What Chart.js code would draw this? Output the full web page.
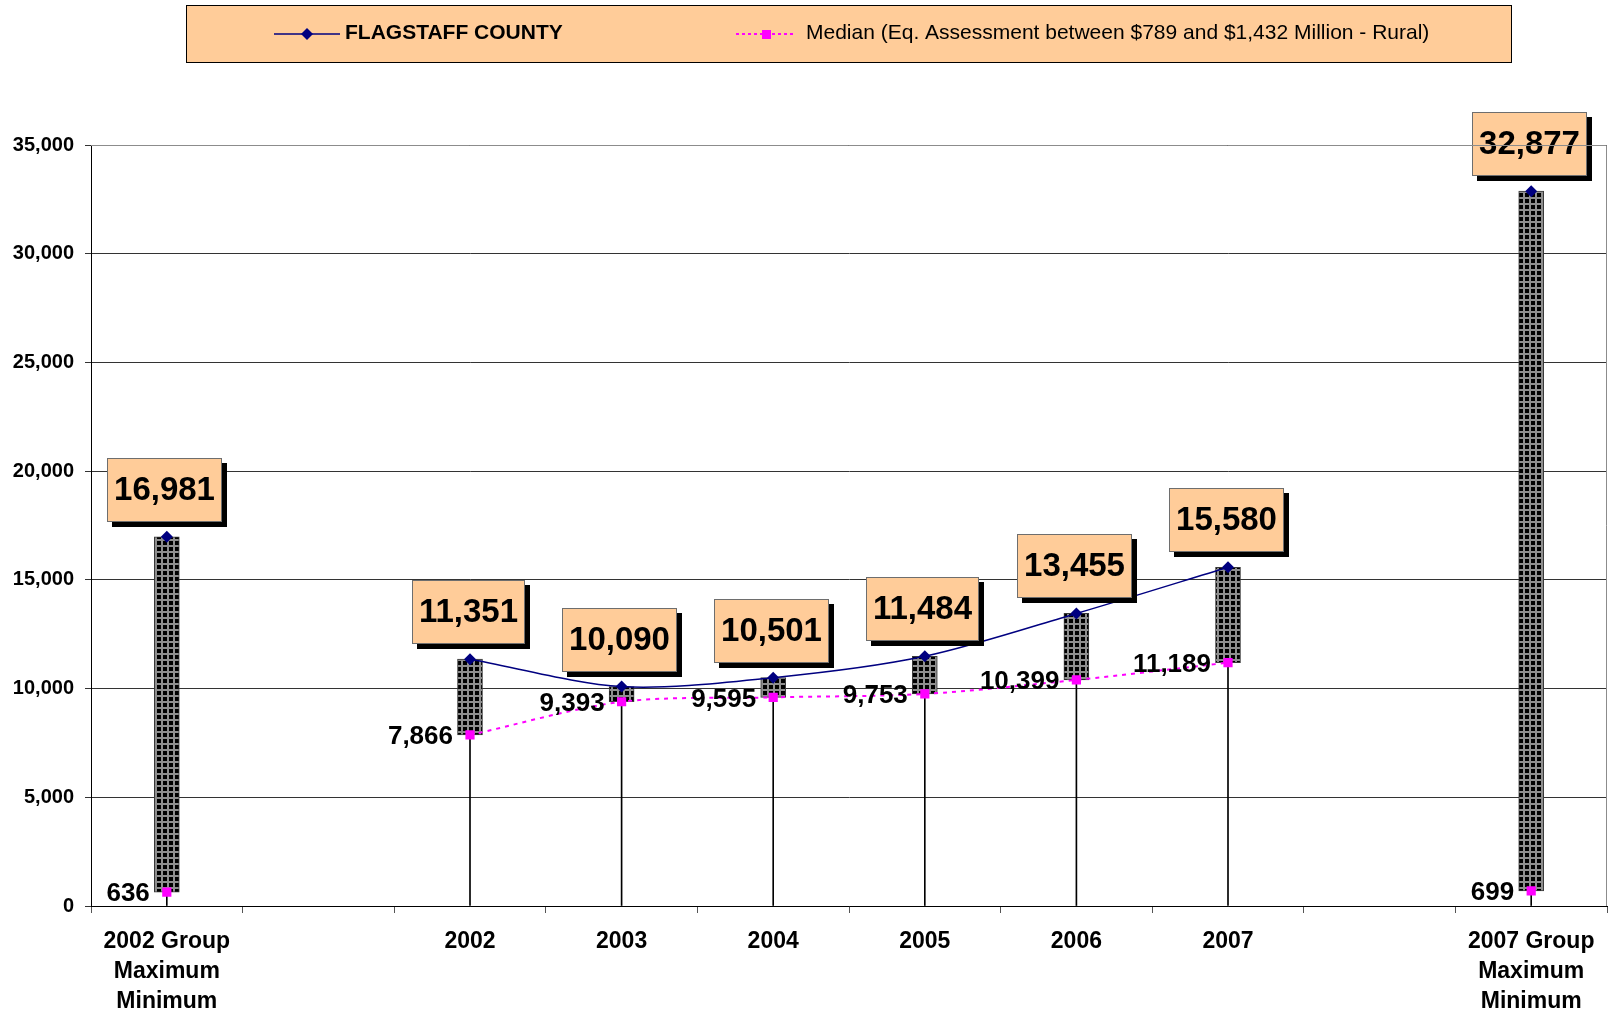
<!DOCTYPE html>
<html>
<head>
<meta charset="utf-8">
<script src="https://cdn.jsdelivr.net/npm/chart.js@4.4.0/dist/chart.umd.min.js"></script>
<style>
  html, body { margin: 0; padding: 0; background: #fff; }
  #wrap { width: 1608px; height: 1013px; }
</style>
</head>
<body>
<div id="wrap"><canvas id="chart" width="1608" height="1013"></canvas></div>
<script>
// categories on the x axis (empty ones are spacer slots)
const categories = [
  ['2002 Group', 'Maximum', 'Minimum'], '',
  '2002', '2003', '2004', '2005', '2006', '2007',
  '', ['2007 Group', 'Maximum', 'Minimum']
];
const countyValues = [16981, null, 11351, 10090, 10501, 11484, 13455, 15580, null, 32877];
const medianValues = [636, null, 7866, 9393, 9595, 9753, 10399, 11189, null, 699];
const yTicks = [0, 5000, 10000, 15000, 20000, 25000, 30000, 35000];

const countyName = 'FLAGSTAFF COUNTY';
const medianName = 'Median (Eq. Assessment between $789 and $1,432 Million - Rural)';

const FONT = '"Liberation Sans", Arial, sans-serif';
Chart.defaults.font.family = FONT;
Chart.defaults.color = '#000';

// range bars and drop lines built from the two series
const rangeBars = countyValues.map((c, i) => c == null ? null : [Math.min(c, medianValues[i]), Math.max(c, medianValues[i])]);
const dropLines = countyValues.map((c, i) => c == null ? null : [0, Math.min(c, medianValues[i])]);

// black squares with grey grid, like the excel pattern fill
function makePattern() {
  const t = document.createElement('canvas');
  t.width = 6; t.height = 6;
  const g = t.getContext('2d');
  g.fillStyle = '#8e8e8e'; g.fillRect(0, 0, 6, 6);
  g.fillStyle = '#000'; g.fillRect(1, 1, 4, 4);
  return document.getElementById('chart').getContext('2d').createPattern(t, 'repeat');
}

const fmt = v => v.toLocaleString('en-US');

const valueLabels = {
  id: 'valueLabels',
  afterDraw(chart) {
    const ctx = chart.ctx;
    ctx.save();
    // county values in peach boxes
    ctx.font = 'bold 33px ' + FONT;
    ctx.textAlign = 'center';
    ctx.textBaseline = 'middle';
    chart.getDatasetMeta(0).data.forEach((pt, i) => {
      if (countyValues[i] == null) return;
      const txt = fmt(countyValues[i]);
      const w = Math.round(ctx.measureText(txt).width + 14), h = 64;
      const x = Math.round(pt.x - 2 - w / 2), y = Math.round(pt.y - 15 - h);
      ctx.fillStyle = '#000';
      ctx.fillRect(x + 5, y + 5, w, h);
      ctx.fillStyle = '#FFCC99';
      ctx.fillRect(x, y, w, h);
      ctx.strokeStyle = '#6e6e6e'; ctx.lineWidth = 1;
      ctx.strokeRect(x + 0.5, y + 0.5, w - 1, h - 1);
      ctx.fillStyle = '#000';
      ctx.fillText(txt, x + w / 2, y + h / 2 + 1);
    });
    // median values left of the markers
    ctx.font = 'bold 26px ' + FONT;
    ctx.textAlign = 'right';
    chart.getDatasetMeta(1).data.forEach((pt, i) => {
      if (medianValues[i] == null) return;
      ctx.fillText(fmt(medianValues[i]), pt.x - 17, pt.y + 2);
    });
    ctx.restore();
  }
};

const boxLegend = {
  id: 'boxLegend',
  afterDraw(chart) {
    const ctx = chart.ctx;
    const ds = chart.data.datasets;
    ctx.save();
    ctx.fillStyle = '#FFCC99';
    ctx.fillRect(186, 5, 1326, 58);
    ctx.strokeStyle = '#000'; ctx.lineWidth = 1;
    ctx.strokeRect(186.5, 5.5, 1325, 57);
    // county sample
    ctx.strokeStyle = ds[0].borderColor; ctx.lineWidth = 1.5;
    ctx.beginPath(); ctx.moveTo(274, 34); ctx.lineTo(340, 34); ctx.stroke();
    ctx.fillStyle = ds[0].borderColor;
    ctx.beginPath(); ctx.moveTo(301, 34); ctx.lineTo(307, 28); ctx.lineTo(313, 34); ctx.lineTo(307, 40); ctx.closePath(); ctx.fill();
    // median sample
    ctx.strokeStyle = ds[1].borderColor; ctx.lineWidth = 2; ctx.setLineDash([3, 3]);
    ctx.beginPath(); ctx.moveTo(736, 34); ctx.lineTo(796, 34); ctx.stroke();
    ctx.setLineDash([]);
    ctx.fillStyle = ds[1].borderColor;
    ctx.fillRect(762, 30, 9, 9);
    ctx.fillStyle = '#000';
    ctx.textBaseline = 'middle'; ctx.textAlign = 'left';
    ctx.font = 'bold 21px ' + FONT;
    ctx.fillText(countyName, 345, 33);
    ctx.font = '21px ' + FONT;
    ctx.fillText(medianName, 806, 33);
    // plot area border top/right
    const a = chart.chartArea;
    ctx.strokeStyle = '#8c8c8c'; ctx.lineWidth = 1;
    ctx.beginPath();
    ctx.moveTo(a.left, Math.round(a.top) + 0.5);
    ctx.lineTo(Math.round(a.right) - 0.5, Math.round(a.top) + 0.5);
    ctx.lineTo(Math.round(a.right) - 0.5, a.bottom);
    ctx.stroke();
    ctx.restore();
  }
};

new Chart(document.getElementById('chart'), {
  data: {
    labels: categories,
    datasets: [
      {
        type: 'line', label: countyName, data: countyValues,
        borderColor: '#000080', backgroundColor: '#000080', borderWidth: 1.5,
        pointStyle: 'rectRot', pointRadius: 6, pointBorderWidth: 0,
        tension: 0.3, spanGaps: false, order: 0
      },
      {
        type: 'line', label: medianName, data: medianValues,
        borderColor: '#FF00FF', backgroundColor: '#FF00FF', borderWidth: 2, borderDash: [4, 5],
        pointStyle: 'rect', pointRadius: 6.5, pointBorderWidth: 0,
        tension: 0.3, spanGaps: false, order: 1
      },
      {
        type: 'bar', label: 'range', data: rangeBars,
        backgroundColor: makePattern(), borderColor: '#3a3a3a', borderWidth: 1,
        borderSkipped: false, barThickness: 25, grouped: false, order: 2
      },
      {
        type: 'bar', label: 'drop', data: dropLines,
        backgroundColor: '#000', borderWidth: 0, barThickness: 1, grouped: false, order: 3
      }
    ]
  },
  options: {
    responsive: false,
    animation: false,
    layout: { autoPadding: false, padding: { top: 145, right: 1, left: 0, bottom: 0 } },
    plugins: { legend: { display: false }, tooltip: { enabled: false } },
    scales: {
      x: {
        offset: true,
        afterFit: s => { s.height = 107; s.paddingLeft = 0; s.paddingRight = 0; },
        grid: { offset: true, drawOnChartArea: false, tickLength: 7, color: '#555' },
        border: { color: '#000', width: 1 },
        ticks: {
          autoSkip: false, maxRotation: 0, padding: 14,
          font: { size: 23, weight: 'bold', lineHeight: 1.3 }, color: '#000'
        }
      },
      y: {
        min: 0, max: 35000,
        afterFit: s => { s.width = 91; },
        afterBuildTicks: s => { s.ticks = yTicks.map(v => ({ value: v })); },
        grid: { color: '#333', tickLength: 6 },
        border: { color: '#000', width: 1 },
        ticks: {
          padding: 11, font: { size: 20, weight: 'bold' }, color: '#000',
          callback: v => fmt(v)
        }
      }
    }
  },
  plugins: [valueLabels, boxLegend]
});
</script>
</body>
</html>
